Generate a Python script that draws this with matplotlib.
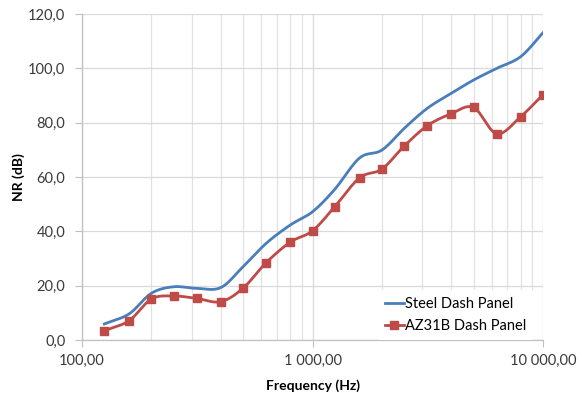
import numpy as np
import matplotlib
matplotlib.use("Agg")
import matplotlib.pyplot as plt
from matplotlib.ticker import FixedLocator, LogLocator, NullFormatter

plt.rcParams['font.family'] = ['Lato', 'DejaVu Sans']

freqs = [125, 160, 200, 250, 315, 400, 500, 630, 800, 1000, 1250, 1600,
         2000, 2500, 3150, 4000, 5000, 6300, 8000, 10000]
steel = [5.9, 9.6, 17.2, 19.6, 19.0, 19.3, 27.0, 35.6, 42.3, 47.2, 55.5, 67.0,
         69.9, 77.9, 85.3, 90.8, 95.7, 100.0, 104.3, 113.1]
az31b = [3.4, 7.1, 15.1, 16.2, 15.3, 14.1, 19.1, 28.5, 36.0, 40.2, 49.1, 59.7,
         62.9, 71.4, 78.9, 83.3, 85.6, 75.9, 82.2, 90.3]
y_ticks = [0, 20, 40, 60, 80, 100, 120]
y_labels = ["0,0", "20,0", "40,0", "60,0", "80,0", "100,0", "120,0"]
x_ticks = [100, 1000, 10000]
x_labels = ["100,00", "1 000,00", "10 000,00"]


def smooth(xs, ys, n=20):
    # Catmull-Rom smoothing in log-x space (like Excel smoothed lines)
    lx = np.log10(xs)
    ys = np.asarray(ys, float)
    P = np.column_stack([lx, ys])
    P = np.vstack([P[0] - (P[1] - P[0]), P, P[-1] + (P[-1] - P[-2])])
    out = []
    for i in range(1, len(P) - 2):
        p0, p1, p2, p3 = P[i - 1], P[i], P[i + 1], P[i + 2]
        t = np.linspace(0, 1, n, endpoint=False)[:, None]
        c = 0.5 * ((2 * p1) + (-p0 + p2) * t + (2 * p0 - 5 * p1 + 4 * p2 - p3) * t**2
                   + (-p0 + 3 * p1 - 3 * p2 + p3) * t**3)
        out.append(c)
    out.append(P[-2][None, :])
    out = np.vstack(out)
    return 10 ** out[:, 0], out[:, 1]


fig = plt.figure(figsize=(5.82, 3.93), dpi=100)
ax = fig.add_axes([82 / 582, 1 - 340 / 393, (543 - 82) / 582, (340 - 14) / 393])

ax.set_xscale("log")
ax.set_xlim(100, 10000)
ax.set_ylim(0, 120)

grid_c = "#d9d9d9"
ax.yaxis.set_major_locator(FixedLocator(y_ticks))
ax.set_yticklabels(y_labels)
ax.xaxis.set_major_locator(FixedLocator(x_ticks))
ax.set_xticklabels(x_labels)
ax.xaxis.set_minor_locator(LogLocator(base=10, subs=np.arange(2, 10)))
ax.xaxis.set_minor_formatter(NullFormatter())
ax.grid(True, which="major", axis="both", color=grid_c, lw=0.9)
ax.grid(True, which="minor", axis="x", color="#e2e2e2", lw=0.9)
ax.set_axisbelow(True)

for s in ["top", "right"]:
    ax.spines[s].set_visible(False)
for s in ["left", "bottom"]:
    ax.spines[s].set_color("#c0c0c0")
    ax.spines[s].set_linewidth(0.9)

ax.tick_params(axis="both", which="major", color="#c0c0c0", length=5,
               labelsize=10.5, labelcolor="#3a3a3a")
ax.tick_params(axis="x", which="minor", length=0)
ax.tick_params(axis="x", pad=5)
ax.tick_params(axis="y", pad=7)

sx, sy = smooth(freqs, steel)
ax.plot(sx, sy, color="#4a7ebb", lw=2.0, label="Steel Dash Panel")
rx, ry = smooth(freqs, az31b)
ax.plot(rx, ry, color="#be4b48", lw=2.0)
ax.plot(freqs, az31b, ls="none", marker="s", ms=5.5, color="#be4b48")
ax.plot([], [], color="#be4b48", lw=2.0, marker="s", ms=5.5, label="AZ31B Dash Panel")

ax.set_xlabel("Frequency (Hz)", fontsize=10, fontweight="bold", labelpad=8)
ax.set_ylabel("NR (dB)", fontsize=10, fontweight="bold")
ax.yaxis.set_label_coords(-0.124, 0.5)

leg = ax.legend(loc="lower right", bbox_to_anchor=(0.98, 0.0), frameon=True,
                fontsize=10.5, handlelength=1.3, handletextpad=0.1,
                borderaxespad=0.0, labelspacing=0.5, borderpad=0.5)
leg.get_frame().set_edgecolor("none")
leg.get_frame().set_facecolor("white")
leg.get_frame().set_alpha(1)

fig.savefig("out.png", dpi=100)
